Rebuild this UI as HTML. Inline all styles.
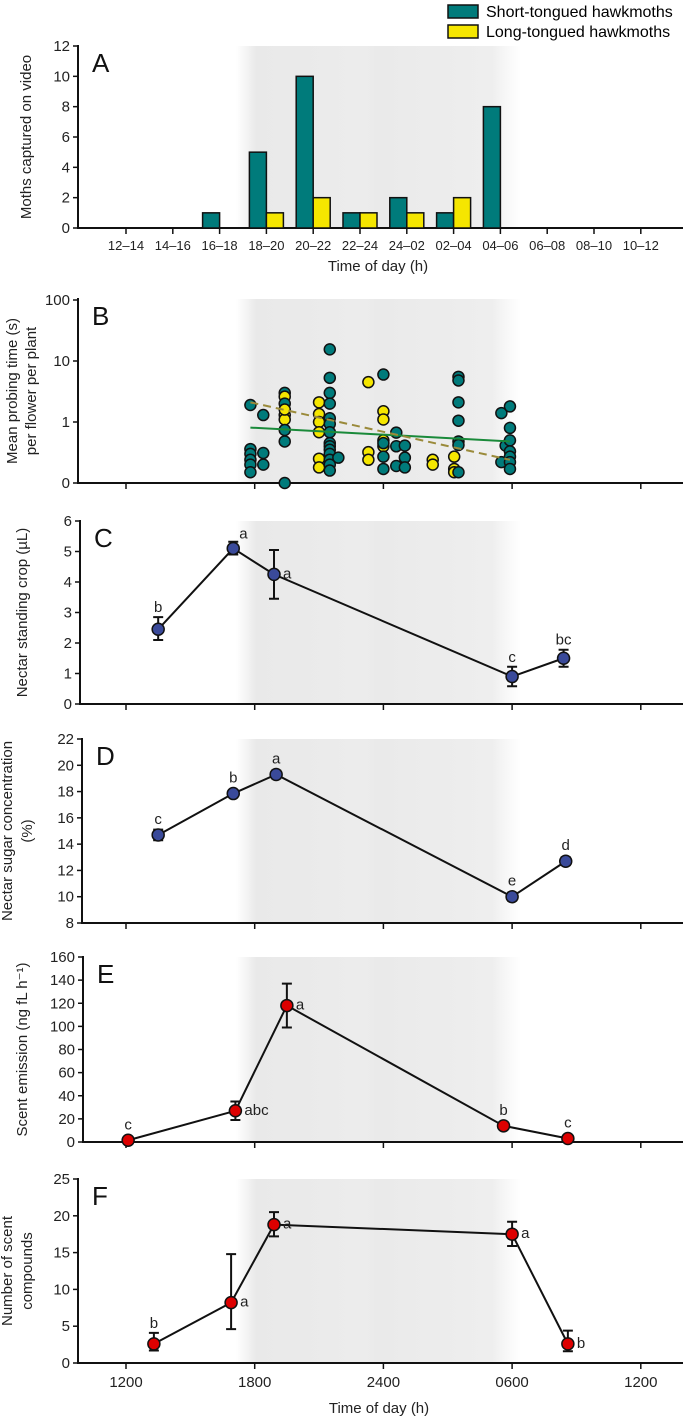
<!DOCTYPE html>
<html><head><meta charset="utf-8"><style>
body{margin:0;background:#fff}
svg{display:block;font-family:"Liberation Sans",sans-serif}
</style></head><body>
<svg id="fig" width="683" height="1418" viewBox="0 0 683 1418" xmlns="http://www.w3.org/2000/svg">
<defs>
<linearGradient id="night" x1="0" x2="1" y1="0" y2="0">
<stop offset="0" stop-color="#ebebeb" stop-opacity="0"/>
<stop offset="0.07" stop-color="#e9e9e9"/>
<stop offset="0.45" stop-color="#ececec"/>
<stop offset="0.5" stop-color="#eaeaea"/>
<stop offset="0.9" stop-color="#eeeeee"/>
<stop offset="1" stop-color="#f2f2f2" stop-opacity="0"/>
</linearGradient>
</defs>
<g>
<rect x="448" y="5" width="30" height="13" fill="#007b7b" stroke="#111" stroke-width="1.5"/>
<text x="486" y="17" font-size="16">Short-tongued hawkmoths</text>
<rect x="448" y="25" width="30" height="13" fill="#f5e600" stroke="#111" stroke-width="1.5"/>
<text x="486" y="37" font-size="16">Long-tongued hawkmoths</text>
</g>
<g id="root"></g>
</svg>
<script>
// Panel A data
const aCats=["12–14","14–16","16–18","18–20","20–22","22–24","24–02","02–04","04–06","06–08","08–10","10–12"];
const aShort=[0,0,1,5,10,1,2,1,8,0,0,0];
const aLong=[0,0,0,1,2,1,1,2,0,0,0,0];
const aTicks=[0,2,4,6,8,10,12];
// Panel B data (hour, value, species)
const bHours=[17.8,17.8,17.8,17.8,17.8,17.8,18.4,18.4,18.4,19.4,19.4,19.4,19.4,19.4,19.4,19.4,19.4,19.4,21.0,21.0,21.0,21.0,21.0,21.0,21.5,21.5,21.5,21.5,21.5,21.5,21.5,21.5,21.5,21.5,21.5,21.5,21.5,21.5,21.9,23.3,23.3,23.3,24.0,24.0,24.0,24.0,24.0,24.0,24.0,24.0,24.6,24.6,24.6,25.0,25.0,25.0,26.3,26.3,27.3,27.3,27.3,27.5,27.5,27.5,27.5,27.5,27.5,27.5,29.5,29.5,29.7,29.9,29.9,29.9,29.9,29.9,29.9,29.9];
const bValues=[1.9,0.36,0.3,0.24,0.2,0.15,1.3,0.31,0.2,3.0,2.6,2.0,1.3,1.1,1.6,0.74,0.48,0.1,2.1,1.35,1.0,0.68,0.25,0.18,15.5,5.3,3.0,2.0,1.15,0.93,0.68,0.45,0.4,0.35,0.3,0.24,0.2,0.16,0.26,4.5,0.32,0.24,1.5,1.1,0.5,0.4,6.0,0.45,0.27,0.17,0.67,0.4,0.19,0.41,0.26,0.18,0.24,0.2,0.27,0.17,0.15,5.5,4.8,2.1,1.05,0.48,0.42,0.15,1.4,0.22,0.41,1.8,0.8,0.5,0.33,0.27,0.22,0.17];
const bSpecies=["s","s","s","s","s","s","s","s","s","s","l","s","l","l","l","s","s","s","l","l","l","l","l","l","s","s","s","s","s","s","s","s","s","s","s","s","s","s","s","l","l","l","l","l","l","l","s","s","s","s","s","s","s","s","s","s","l","l","l","l","l","s","s","s","s","s","s","s","s","s","s","s","s","s","s","s","s","s"];
const bShortFit=[[17.8,0.81],[29.9,0.48]];
const bLongFit=[[17.8,2.1],[29.9,0.24]];
// Panel C
const cHours=[13.5,17.0,18.9,30.0,32.4];
const cValues=[2.45,5.1,4.25,0.9,1.5];
const cLo=[2.1,4.9,3.45,0.58,1.22];
const cHi=[2.85,5.32,5.05,1.22,1.78];
const cLetters=["b","a","a","c","bc"];
// Panel D
const dHours=[13.5,17.0,19.0,30.0,32.5];
const dValues=[14.7,17.85,19.3,10.0,12.7];
const dLo=[14.3,17.6,19.0,9.7,12.4];
const dHi=[15.1,18.1,19.6,10.3,13.0];
const dLetters=["c","b","a","e","d"];
// Panel E
const eHours=[12.1,17.1,19.5,29.6,32.6];
const eValues=[1.5,27,118,14,3];
const eLo=[1.5,19,99,14,3];
const eHi=[1.5,35,137,14,3];
const eLetters=["c","abc","a","b","c"];
// Panel F
const fHours=[13.3,16.9,18.9,30.0,32.6];
const fValues=[2.6,8.2,18.8,17.5,2.6];
const fLo=[1.7,4.6,17.2,15.9,1.6];
const fHi=[4.1,14.8,20.5,19.2,4.4];
const fLetters=["b","a","a","a","b"];
const timeTicks=[12,18,24,30,36];
const timeLabels=["1200","1800","2400","0600","1200"];

const NS="http://www.w3.org/2000/svg";
const root=document.getElementById('root');
function mk(tag,attrs,parent,txt){const e=document.createElementNS(NS,tag);for(const k in attrs)e.setAttribute(k,attrs[k]);if(txt!==undefined)e.textContent=txt;(parent||root).appendChild(e);return e;}
const hx=h=>126+(h-12)*21.45;

function panel(name,ax,top,bottom,letter,ticks,tickFmt,yScale,labels,labelX){
  const g=mk('g',{});
  
  
  const sh=mk('rect',{x:236,y:top,width:285,height:bottom-top,fill:'url(#night)'},g);
  
  
  const yl=mk('line',{x1:ax,y1:top-1,x2:ax,y2:bottom,stroke:'#111','stroke-width':2},g);
  
  
  const xl=mk('line',{x1:ax-1,y1:bottom,x2:683,y2:bottom,stroke:'#111','stroke-width':2},g);
  
  
  ticks.forEach(t=>{const y=yScale(t);
    mk('line',{x1:ax-5,x2:ax,y1:y,y2:y,stroke:'#111','stroke-width':1.5},g);
    const tx=mk('text',{x:ax-8,y:y+5,'font-size':15,'text-anchor':'end',fill:'#222'},g,tickFmt(t));
    
    
  });
  const L=mk('text',{x:ax+14,y:top+26,'font-size':26,fill:'#111'},g,letter);
  
  
  const cy=(top+bottom)/2;
  labels.forEach((s,i)=>{const xx=labelX[i];
    const t=mk('text',{x:xx,y:cy,'font-size':15,'text-anchor':'middle',fill:'#222',transform:`rotate(-90 ${xx} ${cy})`},g,s);
    
    
  });
  return g;
}
function timeAxis(g,bottom){timeTicks.forEach(t=>{const x=hx(t);mk('line',{x1:x,x2:x,y1:bottom,y2:bottom+6,stroke:'#111','stroke-width':1.5},g);});}

// Panel A
(function(){
  const top=46,bottom=228,ys=v=>bottom-(v/12)*(bottom-top);
  const g=panel('panel-a-moths',78,top,bottom,'A',aTicks,t=>t,ys,['Moths captured on video'],[31]);
  const cx=i=>126+i*46.8;
  aCats.forEach((c,i)=>{const x=cx(i);
    mk('line',{x1:x,x2:x,y1:bottom,y2:bottom+6,stroke:'#111','stroke-width':1.5},g);
    const t=mk('text',{x:x,y:bottom+22,'font-size':13,'text-anchor':'middle',fill:'#222'},g,c);
    
    
    if(aShort[i]>0){const r=mk('rect',{x:x-17,y:ys(aShort[i]),width:17,height:bottom-ys(aShort[i]),fill:'#007b7b',stroke:'#111','stroke-width':1.5},g);
      
      }
    if(aLong[i]>0){const r=mk('rect',{x:x,y:ys(aLong[i]),width:17,height:bottom-ys(aLong[i]),fill:'#f5e600',stroke:'#111','stroke-width':1.5},g);
      
      }
  });
  const xt=mk('text',{x:378,y:271,'font-size':15,'text-anchor':'middle',fill:'#222'},g,'Time of day (h)');
  
  
})();

// Panel B
(function(){
  const top=299,bottom=483,ys=v=>422-61*Math.log10(Math.max(v,0.1));
  const g=panel('panel-b-probing',78,top,bottom,'B',[0.1,1,10,100],t=>t<1?'0':String(t),ys,['Mean probing time (s)','per flower per plant'],[17,36]);
  timeAxis(g,bottom);
  bHours.forEach((h,i)=>{
    const c=mk('circle',{cx:hx(h),cy:ys(bValues[i]),r:5.5,fill:bSpecies[i]==='s'?'#007b7b':'#f5e600',stroke:'#111','stroke-width':1.5},g);
    
    
  });
  const l1=mk('line',{x1:hx(bShortFit[0][0]),y1:ys(bShortFit[0][1]),x2:hx(bShortFit[1][0]),y2:ys(bShortFit[1][1]),stroke:'#1a8a3a','stroke-width':2},g);
  
  
  const l2=mk('line',{x1:hx(bLongFit[0][0]),y1:ys(bLongFit[0][1]),x2:hx(bLongFit[1][0]),y2:ys(bLongFit[1][1]),stroke:'#9a8a3a','stroke-width':2,'stroke-dasharray':'8,5'},g);
  
  
})();

function linePanel(name,ax,top,bottom,letter,ymin,ymax,ticks,labels,labelX,H,V,Lo,Hi,Ls,color,letterPos){
  const ys=v=>bottom-(v-ymin)/(ymax-ymin)*(bottom-top);
  const g=panel(name,ax,top,bottom,letter,ticks,t=>t,ys,labels,labelX);
  timeAxis(g,bottom);
  const pts=H.map((h,i)=>hx(h)+','+ys(V[i])).join(' ');
  const pl=mk('polyline',{points:pts,fill:'none',stroke:'#111','stroke-width':2},g);
  
  
  H.forEach((h,i)=>{const x=hx(h),y=ys(V[i]);
    const hasE=Hi[i]-Lo[i]>0;
    const y1=ys(Hi[i]),y2=ys(Lo[i]);
    if(hasE){
      const eb=mk('path',{d:`M${x},${y1}V${y2}M${x-5},${y1}H${x+5}M${x-5},${y2}H${x+5}`,stroke:'#111','stroke-width':2,fill:'none'},g);
      
      }
    const c=mk('circle',{cx:x,cy:y,r:6,fill:color,stroke:'#111','stroke-width':1.5},g);
    
    
    const p=letterPos[i];
    const ty=p==='r'?y+4:Math.min(y-6,hasE?y1:y-6)-5;
    const t=mk('text',{x:p==='r'?x+9:x+(p==='ur'?6:0),y:p==='ur'?y-10:ty,'font-size':15,'text-anchor':p==='r'||p==='ur'?'start':'middle',fill:'#222'},g,Ls[i]);
    
    
  });
}
linePanel('panel-c-nectar-crop',80,521,704,'C',0,6,[0,1,2,3,4,5,6],['Nectar standing crop (µL)'],[27],cHours,cValues,cLo,cHi,cLetters,'#3a4a9a',['u','ur','r','u','u']);
linePanel('panel-d-sugar',82,739,923,'D',8,22,[8,10,12,14,16,18,20,22],['Nectar sugar concentration','(%)'],[12,32],dHours,dValues,dLo,dHi,dLetters,'#3a4a9a',['u','u','u','u','u']);
linePanel('panel-e-scent',83,957,1142,'E',0,160,[0,20,40,60,80,100,120,140,160],['Scent emission (ng fL h⁻¹)'],[27],eHours,eValues,eLo,eHi,eLetters,'#dd0000',['u','r','r','u','u']);
linePanel('panel-f-compounds',78,1179,1363,'F',0,25,[0,5,10,15,20,25],['Number of scent','compounds'],[12,32],fHours,fValues,fLo,fHi,fLetters,'#dd0000',['u','r','r','r','r']);
(function(){
  const g=mk('g',{});
  
  
  timeTicks.forEach((t,i)=>{const tx=mk('text',{x:hx(t),y:1387,'font-size':15,'text-anchor':'middle',fill:'#222'},g,timeLabels[i]);
    
    });
  const xt=mk('text',{x:379,y:1413,'font-size':15,'text-anchor':'middle',fill:'#222'},g,'Time of day (h)');
  
  
})();
</script>
</body></html>
